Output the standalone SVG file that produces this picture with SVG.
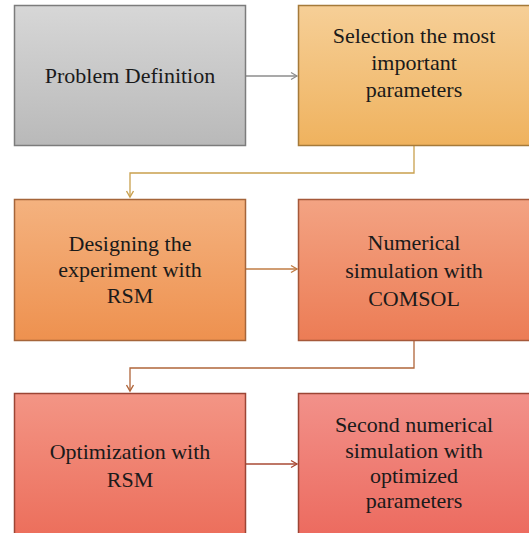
<svg xmlns="http://www.w3.org/2000/svg" width="529" height="533" viewBox="0 0 529 533">
<style>
.t{font-family:'Liberation Serif','Times New Roman',serif;font-size:22px;fill:#1a1a1a;text-anchor:middle}
.box{stroke-width:1.5}
.conn{fill:none;stroke-width:1.3}
</style>
<defs>
<linearGradient id="g1" x1="0" y1="0" x2="0" y2="1"><stop offset="0" stop-color="#d7d7d7"/><stop offset="1" stop-color="#b9b9b9"/></linearGradient>
<linearGradient id="g2" x1="0" y1="0" x2="0" y2="1"><stop offset="0" stop-color="#f6cf97"/><stop offset="1" stop-color="#efb25e"/></linearGradient>
<linearGradient id="g3" x1="0" y1="0" x2="0" y2="1"><stop offset="0" stop-color="#f4b27f"/><stop offset="1" stop-color="#ee914f"/></linearGradient>
<linearGradient id="g4" x1="0" y1="0" x2="0" y2="1"><stop offset="0" stop-color="#f3a383"/><stop offset="1" stop-color="#ec7c55"/></linearGradient>
<linearGradient id="g5" x1="0" y1="0" x2="0" y2="1"><stop offset="0" stop-color="#f39585"/><stop offset="1" stop-color="#ec6e5b"/></linearGradient>
<linearGradient id="g6" x1="0" y1="0" x2="0" y2="1"><stop offset="0" stop-color="#f2918a"/><stop offset="1" stop-color="#ec6a5e"/></linearGradient>
<marker id="a1" markerWidth="10" markerHeight="10" refX="8" refY="5" orient="auto" markerUnits="userSpaceOnUse"><polyline points="2,1.5 8,5 2,8.5" fill="none" stroke="#8c8c8c" stroke-width="1.2"/></marker>
<marker id="a2" markerWidth="10" markerHeight="10" refX="8" refY="5" orient="auto" markerUnits="userSpaceOnUse"><polyline points="2,1.5 8,5 2,8.5" fill="none" stroke="#c9a04e" stroke-width="1.4"/></marker>
<marker id="a3" markerWidth="10" markerHeight="10" refX="8" refY="5" orient="auto" markerUnits="userSpaceOnUse"><polyline points="2,1.5 8,5 2,8.5" fill="none" stroke="#c07c45" stroke-width="1.4"/></marker>
<marker id="a4" markerWidth="10" markerHeight="10" refX="8" refY="5" orient="auto" markerUnits="userSpaceOnUse"><polyline points="2,1.5 8,5 2,8.5" fill="none" stroke="#b0653a" stroke-width="1.4"/></marker>
<marker id="a5" markerWidth="10" markerHeight="10" refX="8" refY="5" orient="auto" markerUnits="userSpaceOnUse"><polyline points="2,1.5 8,5 2,8.5" fill="none" stroke="#a84a35" stroke-width="1.4"/></marker>
</defs>
<rect width="529" height="533" fill="#ffffff"/>
<g id="connectors">
<line class="conn" x1="246" y1="76" x2="297" y2="76" stroke="#8c8c8c" marker-end="url(#a1)"/>
<polyline class="conn" points="414,146 414,173 130,173 130,197" stroke="#c9a04e" marker-end="url(#a2)"/>
<line class="conn" x1="246" y1="269" x2="297" y2="269" stroke="#c07c45" marker-end="url(#a3)"/>
<polyline class="conn" points="414,341 414,368 130,368 130,391" stroke="#b0653a" marker-end="url(#a4)"/>
<line class="conn" x1="246" y1="464" x2="297" y2="464" stroke="#a84a35" marker-end="url(#a5)"/>
</g>
<g id="n1">
<rect class="box" x="14.5" y="5.5" width="231" height="140" fill="url(#g1)" stroke="#7c7c7c"/>
<text class="t" x="130" y="83">Problem Definition</text>
</g>
<g id="n2">
<rect class="box" x="298.5" y="5.5" width="232" height="140" fill="url(#g2)" stroke="#a57a3a"/>
<text class="t" x="414" y="43">Selection the most</text>
<text class="t" x="414" y="70">important</text>
<text class="t" x="414" y="97">parameters</text>
</g>
<g id="n3">
<rect class="box" x="14.5" y="199.5" width="231" height="141" fill="url(#g3)" stroke="#a5653a"/>
<text class="t" x="130" y="251">Designing the</text>
<text class="t" x="130" y="277">experiment with</text>
<text class="t" x="130" y="303">RSM</text>
</g>
<g id="n4">
<rect class="box" x="298.5" y="199.5" width="232" height="141" fill="url(#g4)" stroke="#a5583a"/>
<text class="t" x="414" y="250">Numerical</text>
<text class="t" x="414" y="278">simulation with</text>
<text class="t" x="414" y="306">COMSOL</text>
</g>
<g id="n5">
<rect class="box" x="14.5" y="393.5" width="231" height="145" fill="url(#g5)" stroke="#9c4535"/>
<text class="t" x="130" y="459">Optimization with</text>
<text class="t" x="130" y="487">RSM</text>
</g>
<g id="n6">
<rect class="box" x="298.5" y="393.5" width="232" height="145" fill="url(#g6)" stroke="#9c4535"/>
<text class="t" x="414" y="432">Second numerical</text>
<text class="t" x="414" y="458">simulation with</text>
<text class="t" x="414" y="483">optimized</text>
<text class="t" x="414" y="508">parameters</text>
</g>
</svg>
